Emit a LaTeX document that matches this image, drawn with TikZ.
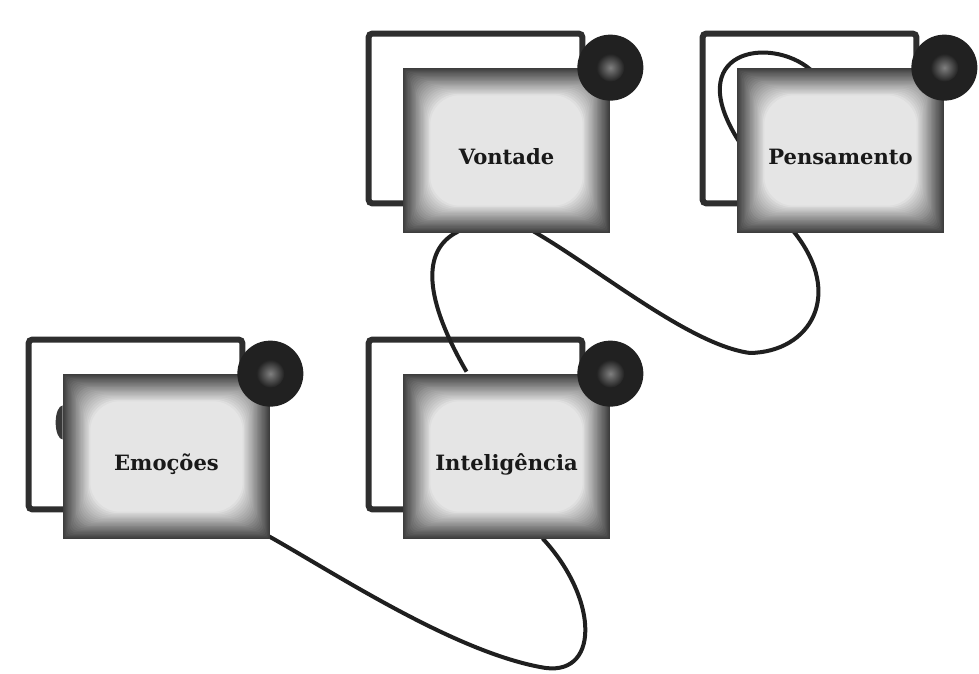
\documentclass[tikz,border=0pt]{standalone}
\usepackage{fontspec}
\setmainfont{DejaVu Serif}
\usetikzlibrary{calc,backgrounds}

\tikzset{
  box/.style={minimum width=41.4mm, minimum height=33mm, inner sep=0pt,
    font=\large\bfseries, text=black!90, text height=16pt, text depth=0pt,
    path picture={
      \foreach \i in {0,...,21}{
        \pgfmathtruncatemacro\k{76-3.1*\i}
        \pgfmathsetmacro\r{0.8*\i}
        \fill[black!\k, rounded corners=\r pt]
          ([shift={(1.3*\i,1.3*\i)}]path picture bounding box.south west) rectangle
          ([shift={(-1.3*\i,-1.3*\i)}]path picture bounding box.north east);
      }
    }},
  frame/.style={draw=black!82, line width=1.2mm, rounded corners=2pt},
  cable/.style={draw=black!88, line width=0.8mm},
  knob/.style={fill=black!87},
}

\begin{document}
\begin{tikzpicture}[x=0.2mm, y=0.2mm]
    \useasboundingbox (0,0) rectangle (979,674);

    % the four modules, each with its knob
    \foreach \nm/\x/\y/\txt in {vontade/506.5/523.5/Vontade,
                                pensamento/840.5/523.5/Pensamento,
                                emocoes/166.5/217.5/Emoções,
                                inteligencia/506.5/217.5/Inteligência}{
        \node[box] (\nm) at (\x,\y) {\txt};
        \fill[knob] (\nm.north east) circle (33);
        \shade[inner color=black!50, outer color=black!87] (\nm.north east) circle (14);
    }
    \fill[black!78] ($(emocoes.west)+(0,51)$) arc[start angle=90, end angle=270, x radius=7, y radius=17] -- cycle;

    \coordinate (D1) at (750,321);
    \coordinate (D2) at (540,7);

    \begin{scope}[on background layer]
        \foreach \nm in {vontade,pensamento,emocoes,inteligencia}
            \draw[frame] ($(\nm.south west)+(-34,30)$) rectangle ($(\nm.north east)+(-28,34)$);

        \draw[cable] ($(vontade.south)+(-48,2)$) .. controls (420,424) and (425,374) .. ($(inteligencia.north)+(-40,2)$);
        \draw[cable] ($(vontade.south)+(27,2)$) .. controls (600,404) and (690,329) .. (D1)
                     .. controls (810,322) and (845,379) .. ($(pensamento.south)+(-47,2)$);
        \draw[cable] ($(pensamento.north)+(-30,-2)$) .. controls (770,639) and (680,624) .. ($(pensamento.west)+(3,8)$);
        \draw[cable] ($(emocoes.south east)+(-5,5)$) .. controls (330,104) and (450,24) .. (D2)
                     .. controls (600,-6) and (600,74) .. ($(inteligencia.south)+(36,1)$);
    \end{scope}

\end{tikzpicture}
\end{document}
